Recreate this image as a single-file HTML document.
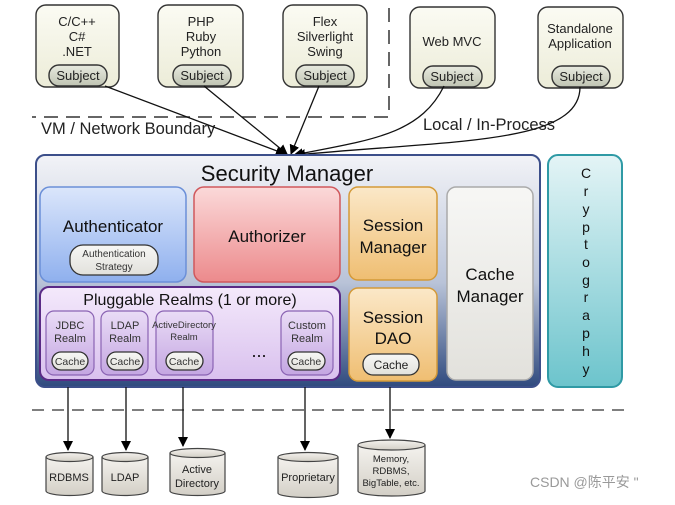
<!DOCTYPE html>
<html><head><meta charset="utf-8"><style>
body{margin:0;background:#fff;}
svg text{font-family:"Liberation Sans","Noto Sans CJK SC",sans-serif;}
</style></head><body>
<svg width="675" height="500" viewBox="0 0 675 500" xmlns="http://www.w3.org/2000/svg">
<defs>
<linearGradient id="sm" x1="0" y1="0" x2="0" y2="1"><stop offset="0" stop-color="#f2f3f7"/><stop offset="0.55" stop-color="#b9c3d8"/><stop offset="1" stop-color="#2f4a7e"/></linearGradient>
<linearGradient id="top" x1="0" y1="0" x2="0" y2="1"><stop offset="0" stop-color="#fbfbf3"/><stop offset="1" stop-color="#ececd8"/></linearGradient>
<linearGradient id="subj" x1="0" y1="0" x2="0" y2="1"><stop offset="0" stop-color="#e8eadf"/><stop offset="1" stop-color="#bfc4b3"/></linearGradient>
<linearGradient id="auth" x1="0" y1="0" x2="0" y2="1"><stop offset="0" stop-color="#dbe6fb"/><stop offset="1" stop-color="#8fb0ee"/></linearGradient>
<linearGradient id="authz" x1="0" y1="0" x2="0" y2="1"><stop offset="0" stop-color="#fbd9d9"/><stop offset="1" stop-color="#ec8a8c"/></linearGradient>
<linearGradient id="sess" x1="0" y1="0" x2="0" y2="1"><stop offset="0" stop-color="#fbe8c8"/><stop offset="1" stop-color="#efbe72"/></linearGradient>
<linearGradient id="cache" x1="0" y1="0" x2="0" y2="1"><stop offset="0" stop-color="#f7f7f5"/><stop offset="1" stop-color="#e2e1dc"/></linearGradient>
<linearGradient id="realm" x1="0" y1="0" x2="0" y2="1"><stop offset="0" stop-color="#f4e9fb"/><stop offset="1" stop-color="#d9c1ee"/></linearGradient>
<linearGradient id="rb" x1="0" y1="0" x2="0" y2="1"><stop offset="0" stop-color="#eadcf6"/><stop offset="1" stop-color="#c4a6e2"/></linearGradient>
<linearGradient id="cry" x1="0" y1="0" x2="0" y2="1"><stop offset="0" stop-color="#e4f4f6"/><stop offset="1" stop-color="#6cc4cc"/></linearGradient>
<linearGradient id="cyl" x1="0" y1="0" x2="0" y2="1"><stop offset="0" stop-color="#f4f2ee"/><stop offset="1" stop-color="#d3cfc6"/></linearGradient>
<marker id="ah" markerWidth="10" markerHeight="10" refX="9" refY="5" orient="auto" markerUnits="userSpaceOnUse"><path d="M0,0 L10,5 L0,10 z" fill="#000"/></marker>
</defs>

<!-- top boxes -->
<g stroke="#333" stroke-width="1.4" fill="url(#top)">
<rect x="36" y="5" width="83" height="82" rx="10"/>
<rect x="158" y="5" width="85" height="82" rx="10"/>
<rect x="283" y="5" width="84" height="82" rx="10"/>
<rect x="410" y="7" width="85" height="81" rx="10"/>
<rect x="538" y="7" width="85" height="81" rx="10"/>
</g>
<g stroke="#333" stroke-width="1.4" fill="url(#subj)">
<rect x="49" y="65" width="58" height="21" rx="10"/>
<rect x="173" y="65" width="58" height="21" rx="10"/>
<rect x="296" y="65" width="58" height="21" rx="10"/>
<rect x="423" y="66" width="59" height="21" rx="10"/>
<rect x="552" y="66" width="58" height="21" rx="10"/>
</g>
<g font-size="13" text-anchor="middle" fill="#222">
<text x="77" y="26">C/C++</text><text x="77" y="41">C#</text><text x="77" y="56">.NET</text>
<text x="201" y="26">PHP</text><text x="201" y="41">Ruby</text><text x="201" y="56">Python</text>
<text x="325" y="26">Flex</text><text x="325" y="41">Silverlight</text><text x="325" y="56">Swing</text>
<text x="452" y="46">Web MVC</text>
<text x="580" y="33">Standalone</text><text x="580" y="48">Application</text>
<text x="78" y="80">Subject</text><text x="202" y="80">Subject</text><text x="325" y="80">Subject</text><text x="452" y="81">Subject</text><text x="581" y="81">Subject</text>
</g>

<!-- boundary dashes -->
<path d="M389,8 V117 H32" fill="none" stroke="#333" stroke-width="1.5" stroke-dasharray="14,8"/>
<text x="41" y="134" font-size="16.5" fill="#222">VM / Network Boundary</text>
<text x="423" y="130" font-size="16.5" fill="#222">Local / In-Process</text>

<!-- arrows to SM -->
<g stroke="#111" stroke-width="1.3" fill="none" marker-end="url(#ah)">
<path d="M105,86 L285,154"/>
<path d="M204,86 L287,154"/>
<path d="M319,86 L291,154"/>
<path d="M444,86 C420,135 370,140 294,155"/>
<path d="M580,87 C580,145 450,140 296,155"/>
</g>

<!-- Security Manager -->
<rect x="36" y="155" width="504" height="232" rx="9" fill="url(#sm)" stroke="#3c4f8a" stroke-width="2"/>
<text x="287" y="181" font-size="22" text-anchor="middle" fill="#111">Security Manager</text>
<rect x="40" y="187" width="146" height="95" rx="10" fill="url(#auth)" stroke="#6b8fd8" stroke-width="1.5"/>
<text x="113" y="232" font-size="17" text-anchor="middle" fill="#111">Authenticator</text>
<rect x="70" y="245" width="88" height="30" rx="13" fill="url(#cache)" stroke="#333" stroke-width="1.3"/>
<text x="114" y="257" font-size="10" text-anchor="middle" fill="#333">Authentication</text>
<text x="114" y="270" font-size="10" text-anchor="middle" fill="#333">Strategy</text>
<rect x="194" y="187" width="146" height="95" rx="10" fill="url(#authz)" stroke="#d0585c" stroke-width="1.5"/>
<text x="267" y="242" font-size="17" text-anchor="middle" fill="#111">Authorizer</text>
<rect x="349" y="187" width="88" height="93" rx="9" fill="url(#sess)" stroke="#d49a38" stroke-width="1.5"/>
<text x="393" y="231" font-size="17" text-anchor="middle" fill="#111">Session</text>
<text x="393" y="253" font-size="17" text-anchor="middle" fill="#111">Manager</text>
<rect x="447" y="187" width="86" height="193" rx="9" fill="url(#cache)" stroke="#aaa" stroke-width="1.5"/>
<text x="490" y="280" font-size="17" text-anchor="middle" fill="#111">Cache</text>
<text x="490" y="302" font-size="17" text-anchor="middle" fill="#111">Manager</text>
<rect x="349" y="288" width="88" height="93" rx="9" fill="url(#sess)" stroke="#d49a38" stroke-width="1.5"/>
<text x="393" y="323" font-size="17" text-anchor="middle" fill="#111">Session</text>
<text x="393" y="344" font-size="17" text-anchor="middle" fill="#111">DAO</text>
<rect x="363" y="354" width="56" height="21" rx="10" fill="url(#cache)" stroke="#333" stroke-width="1.3"/>
<text x="391" y="369" font-size="12" text-anchor="middle" fill="#222">Cache</text>

<rect x="40" y="287" width="300" height="93" rx="9" fill="url(#realm)" stroke="#5a2a86" stroke-width="2"/>
<text x="190" y="305" font-size="16" text-anchor="middle" fill="#111">Pluggable Realms (1 or more)</text>
<g fill="url(#rb)" stroke="#8a63b3" stroke-width="1.2">
<rect x="46" y="311" width="48" height="64" rx="8"/>
<rect x="101" y="311" width="47" height="64" rx="8"/>
<rect x="156" y="311" width="57" height="64" rx="8"/>
<rect x="281" y="311" width="52" height="64" rx="8"/>
</g>
<g font-size="11" text-anchor="middle" fill="#333">
<text x="70" y="329">JDBC</text><text x="70" y="342">Realm</text>
<text x="125" y="329">LDAP</text><text x="125" y="342">Realm</text>
<text x="184" y="328" font-size="9.5">ActiveDirectory</text><text x="184" y="340" font-size="9.5">Realm</text>
<text x="307" y="329">Custom</text><text x="307" y="342">Realm</text>
</g>
<g fill="url(#cache)" stroke="#333" stroke-width="1.3">
<rect x="52" y="352" width="36" height="18" rx="9"/>
<rect x="107" y="352" width="36" height="18" rx="9"/>
<rect x="166" y="352" width="37" height="18" rx="9"/>
<rect x="288" y="352" width="37" height="18" rx="9"/>
</g>
<g font-size="10.5" text-anchor="middle" fill="#333">
<text x="70" y="365">Cache</text><text x="125" y="365">Cache</text><text x="184" y="365">Cache</text><text x="306" y="365">Cache</text>
</g>
<text x="259" y="357" font-size="18" text-anchor="middle" fill="#111">...</text>

<!-- Cryptography -->
<rect x="548" y="155" width="74" height="232" rx="10" fill="url(#cry)" stroke="#2f9aa5" stroke-width="2"/>
<g font-size="14" text-anchor="middle" fill="#111">
<text x="586" y="178">C</text><text x="586" y="196">r</text><text x="586" y="214">y</text><text x="586" y="232">p</text><text x="586" y="249">t</text><text x="586" y="267">o</text><text x="586" y="285">g</text><text x="586" y="302">r</text><text x="586" y="320">a</text><text x="586" y="338">p</text><text x="586" y="356">h</text><text x="586" y="374">y</text>
</g>

<!-- bottom dash -->
<line x1="32" y1="410" x2="632" y2="410" stroke="#555" stroke-width="1.5" stroke-dasharray="12,8"/>

<!-- down arrows -->
<g stroke="#111" stroke-width="1.3" marker-end="url(#ah)">
<line x1="68" y1="387" x2="68" y2="450"/>
<line x1="126" y1="387" x2="126" y2="450"/>
<line x1="183" y1="387" x2="183" y2="446"/>
<line x1="305" y1="387" x2="305" y2="450"/>
<line x1="390" y1="387" x2="390" y2="438"/>
</g>

<!-- cylinders -->
<g stroke="#444" stroke-width="1.2" fill="url(#cyl)">
<path d="M46,457 v34 a23.5,4.5 0 0 0 47,0 v-34"/><ellipse cx="69.5" cy="457" rx="23.5" ry="4.5"/>
<path d="M102,457 v34 a23,4.5 0 0 0 46,0 v-34"/><ellipse cx="125" cy="457" rx="23" ry="4.5"/>
<path d="M170,453 v38 a27.5,4.5 0 0 0 55,0 v-38"/><ellipse cx="197.5" cy="453" rx="27.5" ry="4.5"/>
<path d="M278,457 v36 a30,4.5 0 0 0 60,0 v-36"/><ellipse cx="308" cy="457" rx="30" ry="4.5"/>
<path d="M358,445 v46 a33.5,5 0 0 0 67,0 v-46"/><ellipse cx="391.5" cy="445" rx="33.5" ry="5"/>
</g>
<g font-size="11" text-anchor="middle" fill="#222">
<text x="69" y="481">RDBMS</text>
<text x="125" y="481">LDAP</text>
<text x="197" y="473">Active</text><text x="197" y="487">Directory</text>
<text x="308" y="481">Proprietary</text>
<text x="391" y="462" font-size="9.5">Memory,</text><text x="391" y="474" font-size="9.5">RDBMS,</text><text x="391" y="486" font-size="9.5">BigTable, etc.</text>
</g>
<text x="530" y="487" font-size="14" fill="#999">CSDN @陈平安 "</text>
</svg>
</body></html>
